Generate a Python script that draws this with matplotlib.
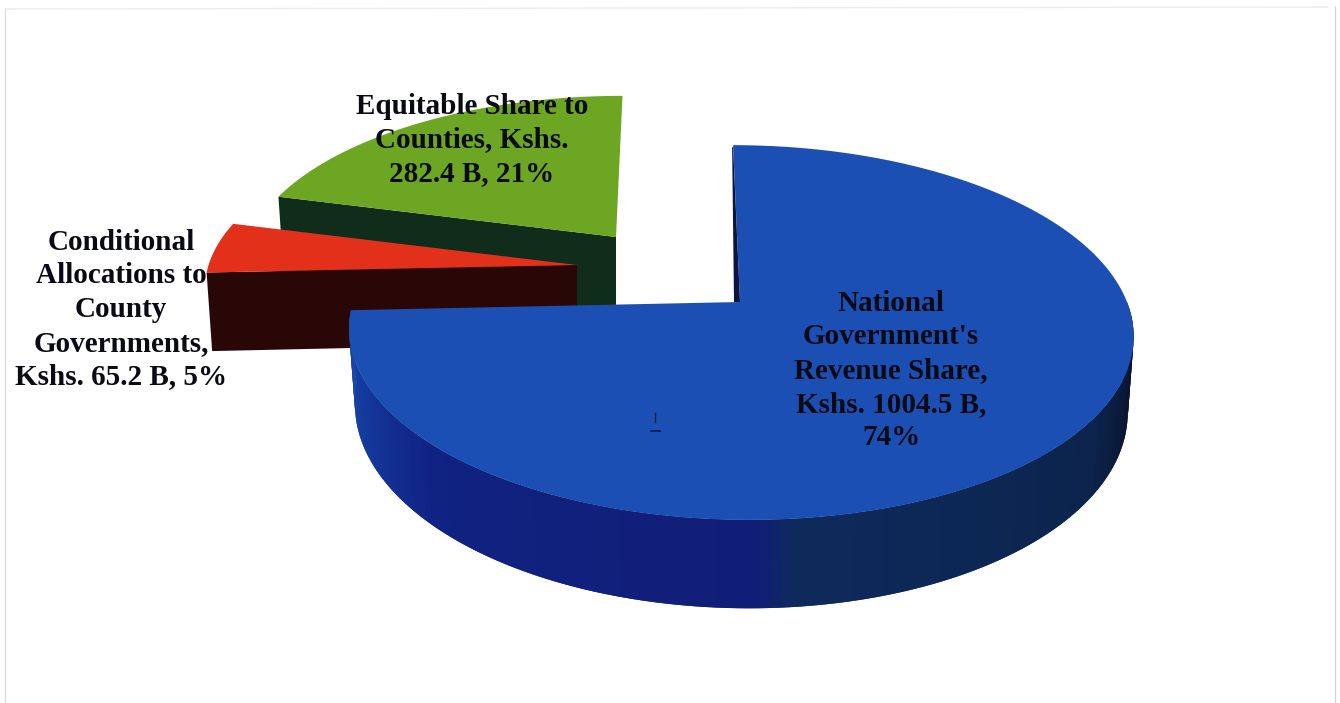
import numpy as np
import matplotlib
matplotlib.use('Agg')
import matplotlib.pyplot as plt

# revenue shares, Kshs. billions
categories = ["National Government's Revenue Share", "Conditional Allocations to County Governments", "Equitable Share to Counties"]
values = [1004.5, 65.2, 282.4]
labels = ["National\nGovernment's\nRevenue Share,\nKshs. 1004.5 B,\n74%",
          "Conditional\nAllocations to\nCounty\nGovernments,\nKshs. 65.2 B, 5%",
          "Equitable Share to\nCounties, Kshs.\n282.4 B, 21%"]

# look of the fake 3d pie
top_colors = ['#1c4fb3', '#e2301a', '#6ca622']
wall_colors = ['#12206e', '#2a0707', '#0f2d1a']
apex = [(740, 302), (577, 265), (616, 237)]
scale = [(1.0, 1.0), (0.952, 0.92), (0.945, 0.90)]
skew = [8, 8, -8]
depth = [74, 78, 78]
label_pos = [(891, 370.5), (121, 309.5), (472, 140)]
RX = 387
RY = 182.4
K = 0.163

# side shading of the big slice, angle clockwise from 12 o'clock
shade_angle = [90, 105, 125, 174, 178, 225, 245, 268]
shade_r = [6, 8, 12, 14, 17, 16, 20, 28]
shade_g = [14, 20, 36, 42, 30, 34, 56, 74]
shade_b = [38, 46, 76, 92, 118, 130, 156, 170]


def rim(i, t):
    # point on the rim of slice i, t in degrees
    u = np.sin(np.radians(t))
    v = np.cos(np.radians(t))
    s = 1 / (1 + K * v)
    x = apex[i][0] + scale[i][0] * (RX * u * s - skew[i] * v * s)
    y = apex[i][1] - scale[i][1] * RY * v * s
    return x, y, s


def lower(i, x, y, s):
    return apex[i][0] + (x - apex[i][0]) * 0.985, y + depth[i] * s


fig = plt.figure(figsize=(13.4, 7.03), dpi=100)
ax = fig.add_axes([0, 0, 1, 1])
ax.set_xlim(0, 1340)
ax.set_ylim(703, 0)
ax.axis('off')

# faint scan frame
ax.plot([5, 5], [703, 9], color='#dcdcdc', lw=1)
ax.plot([5, 1328], [9, 7], color='#ececec', lw=1)
ax.plot([1335, 1335], [7, 703], color='#d4d4d4', lw=1)

angles = 360 * np.cumsum([0] + values) / sum(values)

for i in [2, 1, 0]:
    t = np.linspace(angles[i], angles[i + 1], 200)
    x, y, s = rim(i, t)
    if i == 0:
        # outer side, strips overlap a bit so no seams show
        keep = t >= 90
        tw, xw, yw, sw = t[keep], x[keep], y[keep], s[keep]
        xl, yl = lower(i, xw, yw, sw)
        for j in range(len(tw) - 2):
            c = (np.interp(tw[j], shade_angle, shade_r) / 255,
                 np.interp(tw[j], shade_angle, shade_g) / 255,
                 np.interp(tw[j], shade_angle, shade_b) / 255)
            ax.fill([xw[j], xw[j + 2], xl[j + 2], xl[j]],
                    [yw[j], yw[j + 2], yl[j + 2], yl[j]], color=c, lw=0)
    else:
        # cut face, seen from the front along the slice's first edge
        xl, yl = lower(i, x[0], y[0], s[0])
        ax.fill([x[0], apex[i][0], apex[i][0], xl],
                [y[0], apex[i][1], apex[i][1] + depth[i], yl],
                color=wall_colors[i], lw=0)
    ax.fill(np.r_[apex[i][0], x], np.r_[apex[i][1], y], color=top_colors[i], lw=0)

# dark sliver along the straight edge of the big slice
xe, ye, se = rim(0, 360)
ax.fill([xe, apex[0][0], apex[0][0] - 6, xe - 1],
        [ye + 2, apex[0][1], apex[0][1], ye + 2], color='#0a1440', lw=0)

# specks left by the scan
ax.plot([655, 655], [413, 422], color='#101c50', lw=1)
ax.plot([651, 660], [431, 431], color='#101c50', lw=1.2)

for i in range(3):
    ax.text(label_pos[i][0], label_pos[i][1], labels[i], ha='center', va='center',
            multialignment='center', family='Liberation Serif', fontweight='bold',
            fontsize=21, linespacing=1.316, color='#0a0a14')

fig.savefig('out.png', dpi=100)
